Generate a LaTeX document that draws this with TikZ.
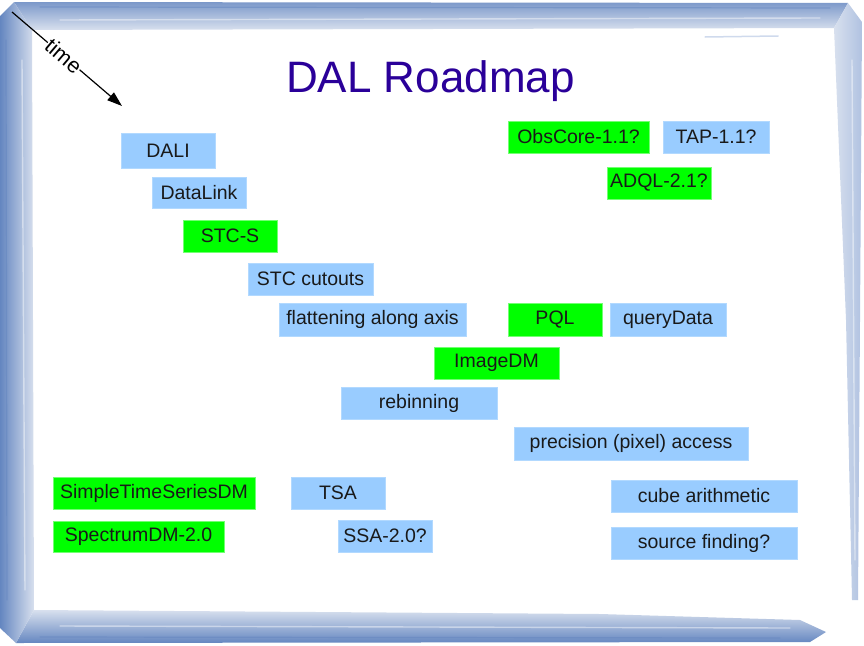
\documentclass[tikz,border=0pt]{standalone}
\usepackage{fontspec}
\setmainfont{Liberation Sans}
\usepackage{tikz}
\usetikzlibrary{arrows.meta, positioning}
\definecolor{boxblue}{RGB}{153,204,255}
\definecolor{boxgreen}{RGB}{0,255,0}
\definecolor{titleblue}{RGB}{42,0,153}
\definecolor{framedark}{RGB}{100,134,192}
\definecolor{framemid}{RGB}{176,194,225}
\definecolor{framelight}{RGB}{216,224,238}
\tikzset{
  roaditem/.style={inner sep=0pt, minimum height=32, font=\fontsize{19.5}{22}\selectfont, text=black!90, line width=0.6pt},
  bluebox/.style={roaditem, fill=boxblue, draw=boxblue!75!white},
  greenbox/.style={roaditem, fill=boxgreen, draw=boxgreen!55!white},
}

\begin{document}
\begin{tikzpicture}[x=1pt, y=-1pt]
  \fill[white] (0,0) rectangle (864,645);
  \useasboundingbox (0,0) rectangle (864,645);
  \shade[top color=framedark!85, middle color=framemid, bottom color=framelight] (14,2) -- (848,3) -- (834,28) -- (32,30) -- cycle;
  \shade[left color=framelight, right color=framemid] (848,3) -- (862,22) -- (860,320) -- (858,600) -- (852,600) -- (846,320) -- (834,28) -- cycle;
  \shade[top color=framelight, middle color=framemid, bottom color=framedark] (16,643) -- (34,610) -- (600,614) -- (800,620) -- (826,632) -- (810,642) -- cycle;
  \shade[left color=framedark, middle color=framemid, right color=framelight] (0,16) -- (14,2) -- (32,30) -- (34,610) -- (16,643) -- (0,628) -- cycle;
  \foreach \a/\b in {{(22,60)}/{(25,590)}, {(60,20)}/{(820,18)}, {(60,626)}/{(790,628)}, {(852,60)}/{(855,560)}} { \draw[white, opacity=0.45, line width=1.4pt, line cap=round] \a -- \b; }
  \foreach \a/\b in {{(6,40)}/{(7,600)}, {(40,7)}/{(830,8)}, {(40,637)}/{(780,638)}} { \draw[framedark, opacity=0.5, line width=1.2pt, line cap=round] \a -- \b; }
  \draw[framemid, opacity=0.6, line width=1.5pt, line cap=round] (705,37) -- (778,36);
  \node[font=\fontsize{44}{50}\selectfont, text=titleblue, anchor=base] (title) at (430.5,92) {DAL Roadmap};
  \coordinate (timestart) at (12,12);
  \coordinate (timeend) at (122,106);
  \draw[line width=1.2pt, -{Triangle[length=15pt, width=10pt]}] (timestart) -- node[sloped, pos=0.47, fill=white, inner sep=0.5pt, font=\fontsize{21.5}{24}\selectfont] (timelabel) {time} (timeend);
  \foreach \n/\s/\cx/\cy/\w/\h/\txt in {
    dali/bluebox/168/150.5/94/35/DALI,
    datalink/bluebox/199/192.5/94/31/DataLink,
    stcs/greenbox/230/236/94/32/STC-S,
    stccutouts/bluebox/310.5/279/125/32/STC cutouts,
    flattening/bluebox/372.5/319.5/187/33/flattening along axis,
    pql/greenbox/555/319.5/94/33/PQL,
    querydata/bluebox/668/319.5/116/33/queryData,
    imagedm/greenbox/496.5/363/125/32/ImageDM,
    rebinning/bluebox/419/403/156/32/rebinning,
    precision/bluebox/631/443.5/234/33/precision (pixel) access,
    obscore/greenbox/578.5/137/141/32/ObsCore-1.1?,
    tap/bluebox/716/137/106/32/TAP-1.1?,
    adql/greenbox/659/183/104/32/ADQL-2.1?,
    stsdm/greenbox/154/493/202/32/SimpleTimeSeriesDM,
    tsa/bluebox/338/493/94/32/TSA,
    spectrumdm/greenbox/138.5/536.5/171/31/SpectrumDM-2.0,
    ssa/bluebox/385/536/94/32/SSA-2.0?,
    cubearith/bluebox/704/496/186/32/cube arithmetic,
    sourcefind/bluebox/704/543/186/32/source finding?}
    \node[\s, minimum width=\w, minimum height=\h] (\n) at (\cx,\cy) {\txt};
\end{tikzpicture}
\end{document}
